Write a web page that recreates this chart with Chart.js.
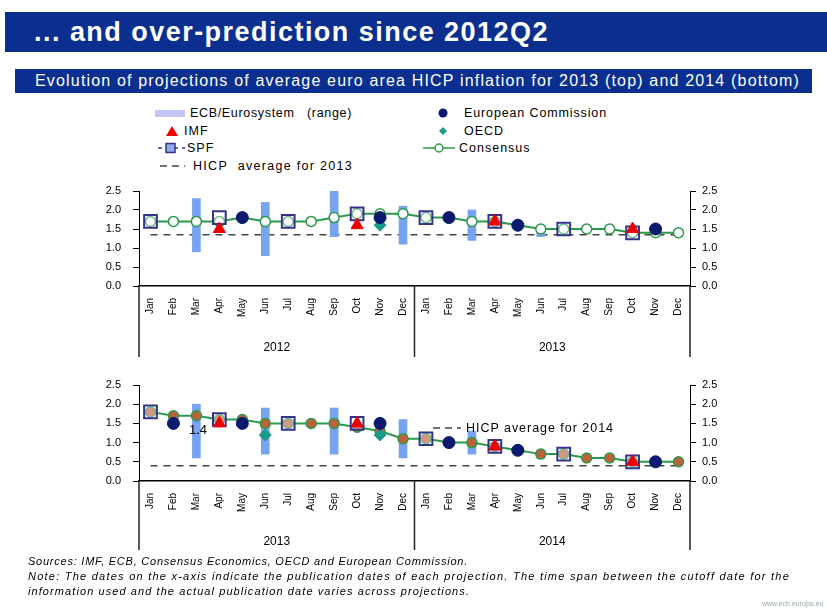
<!DOCTYPE html>
<html lang="en">
<head>
<meta charset="UTF-8">
<title>... and over-prediction since 2012Q2</title>
<script src="https://cdn.jsdelivr.net/npm/chart.js@4/dist/chart.umd.min.js"></script>
<style>
  body { margin:0; width:827px; height:612px; background:#fff; position:relative; overflow:hidden;
         font-family:"Liberation Sans", Arial, sans-serif; color:#000; }
  .header { position:absolute; left:5px; top:12px; width:822px; height:40px; background:#0a2f8f;
            color:#fff; font-weight:bold; font-size:27px; line-height:40px; padding-left:29px; box-sizing:border-box; }
  .subtitle { position:absolute; left:15px; top:69px; width:797px; height:24px; background:#0a2f8f;
              color:#fff; font-size:16px; line-height:24px; padding-left:20px; box-sizing:border-box; }
  .fit { display:inline-block; white-space:nowrap; }
  .lg { position:absolute; font-size:12.5px; line-height:14px; white-space:nowrap; }
  .lg svg { position:absolute; }
  canvas { position:absolute; }
  .note { position:absolute; left:28px; font-size:11px; font-style:italic; white-space:nowrap; }
  .url { position:absolute; left:762px; top:600px; font-size:7px; color:#9aa; }
</style>
</head>
<body>
<div class="header"><span class="fit" data-w="515">... and over-prediction since 2012Q2</span></div>
<div class="subtitle"><span class="fit" data-w="765">Evolution of projections of average euro area HICP inflation for 2013 (top) and 2014 (bottom)</span></div>

<!-- legend, left column -->
<div class="lg" style="left:155px;top:106px;width:220px;height:14px;">
  <svg width="30" height="14" style="left:0;top:0"><rect x="0" y="4" width="30" height="7" fill="#c3c6f2"/></svg>
  <span class="fit" data-w="162" style="position:absolute;left:35px;">ECB/Eurosystem&nbsp;&nbsp;&nbsp;(range)</span>
</div>
<div class="lg" style="left:155px;top:124px;width:100px;height:14px;">
  <svg width="30" height="14" style="left:0;top:0"><polygon points="17,2 23,12 11,12" fill="#e00"/></svg>
  <span style="position:absolute;left:29px;letter-spacing:1px;">IMF</span>
</div>
<div class="lg" style="left:155px;top:141px;width:100px;height:14px;">
  <svg width="30" height="14" style="left:0;top:0"><line x1="3" y1="7" x2="30" y2="7" stroke="#33338a" stroke-width="1.5" stroke-dasharray="4,4"/><rect x="11" y="2.5" width="9" height="9" fill="#8fa8e8" stroke="#33338a" stroke-width="1.5"/></svg>
  <span style="position:absolute;left:32px;letter-spacing:1px;">SPF</span>
</div>
<div class="lg" style="left:155px;top:159px;width:220px;height:14px;">
  <svg width="30" height="14" style="left:0;top:0"><line x1="5" y1="7" x2="30" y2="7" stroke="#444" stroke-width="1.5" stroke-dasharray="7,5"/></svg>
  <span class="fit" data-w="160" style="position:absolute;left:38px;">HICP&nbsp;&nbsp;average for 2013</span>
</div>
<!-- legend, right column -->
<div class="lg" style="left:428px;top:106px;width:220px;height:14px;">
  <svg width="30" height="14" style="left:0;top:0"><circle cx="15" cy="7" r="4.5" fill="#0b1a6e"/></svg>
  <span class="fit" data-w="143" style="position:absolute;left:36px;">European Commission</span>
</div>
<div class="lg" style="left:428px;top:124px;width:200px;height:14px;">
  <svg width="30" height="14" style="left:0;top:0"><polygon points="15,3 19,7 15,11 11,7" fill="#1a9a8a"/></svg>
  <span style="position:absolute;left:36px;letter-spacing:1px;">OECD</span>
</div>
<div class="lg" style="left:423px;top:141px;width:200px;height:14px;">
  <svg width="32" height="14" style="left:0;top:0"><line x1="0" y1="7" x2="32" y2="7" stroke="#2a9a4a" stroke-width="1.5"/><circle cx="16" cy="7" r="4" fill="#fff" stroke="#2a9a4a" stroke-width="1.5"/></svg>
  <span style="position:absolute;left:36px;letter-spacing:1px;">Consensus</span>
</div>

<canvas id="top" width="660" height="190" style="left:100px;top:180px;"></canvas>
<canvas id="bottom" width="660" height="186" style="left:100px;top:374px;"></canvas>

<!-- in-chart text of the bottom panel -->
<div class="lg" style="left:433px;top:421px;width:200px;height:14px;z-index:2;font-size:12.5px;">
  <svg width="28" height="14" style="left:0;top:0"><line x1="0" y1="7" x2="28" y2="7" stroke="#444" stroke-width="1.5" stroke-dasharray="7,5"/></svg>
  <span class="fit" data-w="148" style="position:absolute;left:33px;">HICP average for 2014</span>
</div>
<div class="lg" style="left:189px;top:423px;font-size:13px;z-index:2;">1.4</div>

<div class="note" style="top:555px;"><span class="fit" data-w="440">Sources: IMF, ECB, Consensus Economics, OECD and European Commission.</span></div>
<div class="note" style="top:570px;"><span class="fit" data-w="762">Note: The dates on the x-axis indicate the publication dates of each projection. The time span between the cutoff date for the</span></div>
<div class="note" style="top:585px;"><span class="fit" data-w="442">information used and the actual publication date varies across projections.</span></div>
<div class="url">www.ecb.europa.eu</div>

<script>
const months = ['Jan','Feb','Mar','Apr','May','Jun','Jul','Aug','Sep','Oct','Nov','Dec'];
const monthLabels = months.concat(months);
const topYears = ['2012', '2013'];
const bottomYears = ['2013', '2014'];

// projections for 2013, by publication month Jan 2012 .. Dec 2013
const ecbLow2013  = [null,null,0.9,null,null,0.8,null,null,1.3,null,null,1.1, null,null,1.2,null,null,1.3,null,null,1.4,null,null,1.4];
const ecbHigh2013 = [null,null,2.3,null,null,2.2,null,null,2.5,null,null,2.1, null,null,2.0,null,null,1.5,null,null,1.6,null,null,1.4];
const imf2013  = [null,null,null,1.5,null,null,null,null,null,1.6,null,null, null,null,null,1.7,null,null,null,null,null,1.5,null,null];
const ec2013   = [null,null,null,null,1.8,null,null,null,null,null,1.8,null, null,1.8,null,null,1.6,null,null,null,null,null,1.5,null];
const oecd2013 = [null,null,null,null,1.8,null,null,null,null,null,1.6,null, null,null,null,null,1.6,null,null,null,null,null,1.5,null];
const spf2013  = [1.7,null,null,1.8,null,null,1.7,null,null,1.9,null,null, 1.8,null,null,1.7,null,null,1.5,null,null,1.4,null,null];
const consensus2013 = [1.7,1.7,1.7,1.7,1.8,1.7,1.7,1.7,1.8,1.9,1.9,1.9, 1.8,1.8,1.7,1.7,1.6,1.5,1.5,1.5,1.5,1.4,1.4,1.4];
const hicpAvg2013 = 1.35;

// projections for 2014, by publication month Jan 2013 .. Dec 2014
const ecbLow2014  = [null,null,0.6,null,null,0.7,null,null,0.7,null,null,0.6, null,null,0.7,null,null,0.6,null,null,0.6,null,null,0.5];
const ecbHigh2014 = [null,null,2.0,null,null,1.9,null,null,1.9,null,null,1.6, null,null,1.3,null,null,0.8,null,null,0.6,null,null,0.5];
const imf2014  = [null,null,null,1.5,null,null,null,null,null,1.5,null,null, null,null,null,0.9,null,null,null,null,null,0.5,null,null];
const ec2014   = [null,1.5,null,null,1.5,null,null,null,null,null,1.5,null, null,1.0,null,null,0.8,null,null,null,null,null,0.5,null];
const oecd2014 = [null,null,null,null,null,1.2,null,null,null,null,1.2,null, null,null,null,null,0.8,null,null,null,null,null,0.5,null];
const spf2014  = [1.8,null,null,1.6,null,null,1.5,null,null,1.5,null,null, 1.1,null,null,0.9,null,null,0.7,null,null,0.5,null,null];
const consensus2014 = [1.8,1.7,1.7,1.6,1.6,1.5,1.5,1.5,1.5,1.4,1.3,1.1, 1.1,1.0,1.0,0.9,0.8,0.7,0.7,0.6,0.6,0.5,0.5,0.5];
const hicpAvg2014 = 0.4;

// stretch the blurry, wide-set texts of the slide to their measured widths
document.querySelectorAll('.fit').forEach(el => {
  const w = el.getBoundingClientRect().width;
  const n = el.textContent.length;
  el.style.letterSpacing = ((+el.dataset.w - w) / n) + 'px';
});

// year labels and dividers under the month axis
const yearAxis = {
  id: 'yearAxis',
  afterDraw(chart, args, opts) {
    const {ctx, chartArea} = chart;
    const x = chart.scales.x;
    const mid = (x.getPixelForValue(11) + x.getPixelForValue(12)) / 2;
    const base = chartArea.bottom;
    ctx.save();
    ctx.strokeStyle = '#222';
    ctx.lineWidth = 1.5;
    [x.left, mid, x.right].forEach(px => {
      ctx.beginPath();
      ctx.moveTo(px, base);
      ctx.lineTo(px, base + opts.lineLen);
      ctx.stroke();
    });
    ctx.fillStyle = '#000';
    ctx.font = '12px "Liberation Sans", Arial, sans-serif';
    ctx.textAlign = 'center';
    ctx.textBaseline = 'middle';
    ctx.fillText(opts.labels[0], (x.left + mid) / 2, base + opts.textY);
    ctx.fillText(opts.labels[1], (mid + x.right) / 2, base + opts.textY);
    ctx.restore();
  }
};

// dashed HICP average line
const hicpLine = {
  id: 'hicpLine',
  beforeDatasetsDraw(chart, args, opts) {
    const {ctx} = chart;
    const x = chart.scales.x, y = chart.scales.y;
    const py = y.getPixelForValue(opts.value);
    ctx.save();
    ctx.strokeStyle = '#444';
    ctx.lineWidth = 1.5;
    ctx.setLineDash([7, 6]);
    ctx.beginPath();
    ctx.moveTo(x.getPixelForValue(0), py);
    ctx.lineTo(x.getPixelForValue(monthLabels.length - 1), py);
    ctx.stroke();
    ctx.restore();
  }
};

function yAxis(pos, width, pad) {
  return {
    position: pos, min: 0, max: 2.5,
    ticks: { stepSize: 0.5, padding: pad, color: '#000', font: { size: 11, family: '"Liberation Sans", Arial, sans-serif' },
             callback: v => v.toFixed(1) },
    grid: { drawOnChartArea: false, tickLength: 6, color: '#000' },
    border: { color: '#000', width: 1 },
    // the tick padding should only push labels sideways, not shrink the plot
    afterFit(s) { s.width = width; s.paddingTop = 6; s.paddingBottom = 6; }
  };
}

function makeChart(id, d) {
  const range = d.low.map((lo, i) => lo === null ? null : [lo, d.high[i]]);
  return new Chart(document.getElementById(id), {
    type: 'bar',
    data: {
      labels: monthLabels,
      datasets: [
        { type: 'line', label: 'European Commission', data: d.ec, showLine: false,
          pointStyle: 'circle', pointRadius: 6, pointBackgroundColor: '#0b1a6e', pointBorderColor: '#0b1a6e', order: 1 },
        { type: 'line', label: 'OECD', data: d.oecd, showLine: false,
          pointStyle: 'rectRot', pointRadius: 6, pointBackgroundColor: '#1a9a8a', pointBorderColor: '#1a9a8a', order: 2 },
        { type: 'line', label: 'IMF', data: d.imf, showLine: false,
          pointStyle: 'triangle', pointRadius: 7, pointBackgroundColor: '#ee0000', pointBorderColor: '#ee0000', order: 3 },
        { type: 'line', label: 'SPF', data: d.spf, showLine: false,
          pointStyle: 'rect', pointRadius: 9, pointBorderWidth: 2, pointBackgroundColor: 'rgba(255,255,255,0.35)', pointBorderColor: '#33338a', order: 4 },
        { type: 'line', label: 'Consensus', data: d.cons, borderColor: '#2a9a4a', borderWidth: 2,
          pointStyle: 'circle', pointRadius: 5, pointBorderWidth: 1.5, pointBackgroundColor: d.consFill, pointBorderColor: '#2a9a4a', order: 5 },
        { type: 'bar', label: 'ECB/Eurosystem (range)', data: range, backgroundColor: '#77a3f0', barThickness: 8, order: 10 }
      ]
    },
    options: {
      responsive: false, animation: false,
      layout: { padding: 0 },
      plugins: {
        legend: { display: false }, tooltip: { enabled: false },
        yearAxis: { labels: d.years, lineLen: d.lineLen, textY: d.textY },
        hicpLine: { value: d.hicp }
      },
      scales: {
        x: { offset: true, grid: { display: false }, border: { display: true, color: '#000', width: 1.5 },
             ticks: { minRotation: 90, maxRotation: 90, autoSkip: false, padding: 4, color: '#000',
                      font: { size: 10, family: '"Liberation Sans", Arial, sans-serif' } },
             afterFit(s) { s.height = d.xHeight; } },
        y: yAxis('left', 39, 12),
        y2: yAxis('right', 70, 6)
      }
    },
    plugins: [yearAxis, hicpLine]
  });
}

makeChart('top', { low: ecbLow2013, high: ecbHigh2013, imf: imf2013, ec: ec2013, oecd: oecd2013, spf: spf2013,
  cons: consensus2013, consFill: '#ffffff', hicp: hicpAvg2013, years: topYears, xHeight: 84, lineLen: 71, textY: 62 });
makeChart('bottom', { low: ecbLow2014, high: ecbHigh2014, imf: imf2014, ec: ec2014, oecd: oecd2014, spf: spf2014,
  cons: consensus2014, consFill: '#c0603a', hicp: hicpAvg2014, years: bottomYears, xHeight: 79, lineLen: 69, textY: 61 });
</script>
</body>
</html>
